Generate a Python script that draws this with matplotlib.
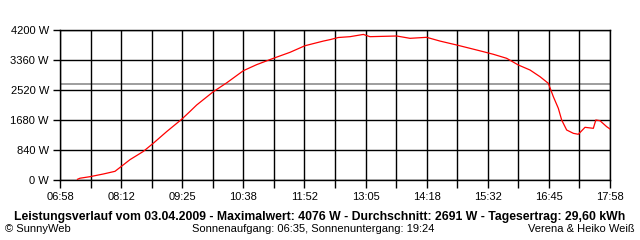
import matplotlib
matplotlib.use("Agg")
import matplotlib.pyplot as plt

# power readings (time, W)
times = ["07:19", "07:22", "07:34", "07:50", "08:04", "08:11", "08:22", "08:38",
         "08:50", "09:06", "09:24", "09:34", "09:42", "10:02", "10:18", "10:38",
         "10:54", "11:14", "11:34", "11:52", "12:14", "12:22", "12:32", "12:46",
         "13:02", "13:10", "13:42", "13:58", "14:18", "14:34", "14:54", "15:10",
         "15:26", "15:38", "15:54", "16:08", "16:22", "16:34", "16:44", "16:50",
         "16:56", "17:00", "17:06", "17:14", "17:20", "17:28", "17:38", "17:41",
         "17:46", "17:54", "17:58"]
watts = [20, 50, 93, 168, 243, 370, 570, 800,
         1030, 1355, 1700, 1920, 2100, 2473, 2720, 3060,
         3230, 3407, 3575, 3760, 3890, 3930, 3990, 4013,
         4076, 4013, 4032, 3967, 3995, 3890, 3780, 3687,
         3593, 3520, 3407, 3220, 3080, 2893, 2707, 2333,
         2007, 1680, 1400, 1307, 1280, 1475, 1447, 1680,
         1660, 1493, 1428]
average = 2691

x_labels = ["06:58", "08:12", "09:25", "10:38", "11:52",
            "13:05", "14:18", "15:32", "16:45", "17:58"]
y_ticks = [0, 840, 1680, 2520, 3360, 4200]

def to_min(s):
    h, m = s.split(":")
    return int(h) * 60 + int(m)

t0 = to_min("06:58")
t1 = to_min("17:58")
xs = [to_min(t) for t in times]

plt.rcParams['font.family'] = ['Liberation Sans', 'DejaVu Sans']

fig = plt.figure(figsize=(6.4, 2.4), dpi=100)
ax = fig.add_axes([60 / 640, 60 / 240, 550 / 640, 150 / 240])

step = (t1 - t0) / 9
ax.set_xlim(t0, t1)
ax.set_ylim(0, 4200)
ax.set_xticks([t0 + i * step for i in range(10)])
ax.set_xticklabels(x_labels)
ax.set_xticks([t0 + (i + 0.5) * step for i in range(9)], minor=True)
ax.set_yticks(y_ticks)
ax.set_yticklabels([f"{v} W" for v in y_ticks])

ax.grid(True, which='both', axis='x', color='black', linewidth=1)
ax.grid(True, axis='y', color='black', linewidth=1)
ax.axhline(average, color='#8c8c8c', linewidth=1.2, zorder=2)
ax.plot(xs, watts, color='red', linewidth=0.9, zorder=3)

for sp in ax.spines.values():
    sp.set_color('black')
    sp.set_linewidth(1)
ax.tick_params(axis='x', which='both', direction='out', length=6, width=1,
               labelsize=8, pad=3, colors='black')
ax.tick_params(axis='y', direction='out', length=5, width=1,
               labelsize=8, pad=3, colors='black')
ax.set_axisbelow(False)

fig.text(0.5, 1 - 217 / 240,
         "Leistungsverlauf vom 03.04.2009 - Maximalwert: 4076 W - Durchschnitt: 2691 W - Tagesertrag: 29,60 kWh",
         ha='center', va='center', fontsize=8.8, fontweight='bold')
fig.text(5 / 640, 1 - 229 / 240, "© SunnyWeb", ha='left', va='center', fontsize=8)
fig.text(313 / 640, 1 - 229 / 240, "Sonnenaufgang: 06:35, Sonnenuntergang: 19:24",
         ha='center', va='center', fontsize=8)
fig.text(635 / 640, 1 - 229 / 240, "Verena & Heiko Weiß", ha='right', va='center', fontsize=8)

fig.savefig("out.png", dpi=100)
